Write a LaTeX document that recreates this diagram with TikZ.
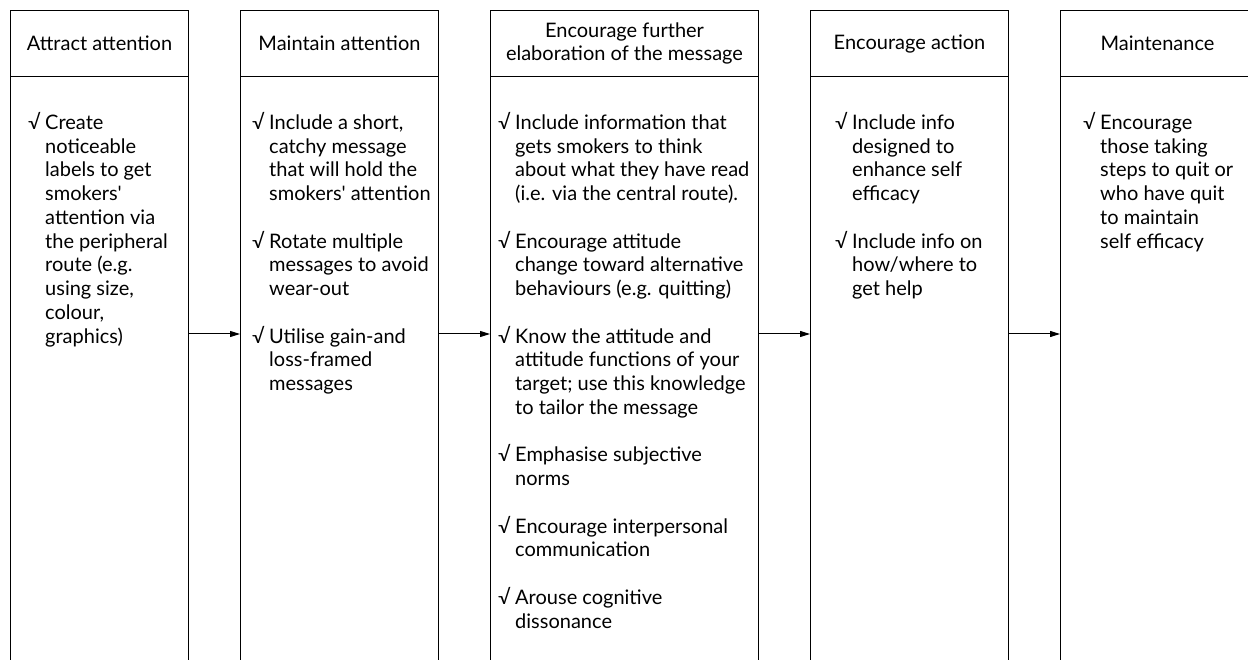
\documentclass[tikz,border=0pt]{standalone}
\usepackage{fontspec}
\setmainfont{Lato}
\usetikzlibrary{arrows.meta,positioning}

\newcommand{\chk}{\makebox[17pt][l]{√}}
\newcommand{\indt}{\hspace*{17pt}}

\begin{document}
\begin{tikzpicture}[x=1pt,y=-1pt,
    stagehead/.style={draw,line width=1pt,minimum height=66pt,inner sep=0pt,
        anchor=north west,align=center,font=\fontsize{20}{23}\selectfont},
    stagebody/.style={draw,line width=1pt,minimum height=640pt,inner sep=0pt,anchor=north west},
    points/.style={anchor=north west,align=left,inner sep=0pt,font=\fontsize{20}{23.75}\selectfont},
    flow/.style={line width=1pt,-{Triangle[length=10pt,width=6pt]}}]

\clip (0,0) rectangle (1248,660);
\fill[white] (0,0) rectangle (1248,660);

% Stage headers and bodies
\foreach \n/\x/\w/\title in {1/10/178/Attract attention,
        2/240/198/Maintain attention,
        3/490/268/{Encourage further\\elaboration of the message},
        4/810/198/Encourage action,
        5/1060/194/Maintenance} {
    \node[stagehead,minimum width=\w] (head\n) at (\x,10) {\title};
    \node[stagebody,minimum width=\w] (body\n) at (\x,76) {};
}

% Check lists
\node[points] (pts1) at (28,112) {
    \chk Create\\ \indt noticeable\\ \indt labels to get\\ \indt smokers\textquotesingle\\
    \indt attention via\\ \indt the peripheral\\ \indt route (e.g.\\ \indt using size,\\
    \indt colour,\\ \indt graphics)
};

\node[points] (pts2) at (252,112) {
    \chk Include a short,\\ \indt catchy message\\ \indt that will hold the\\
    \indt smokers\textquotesingle{} attention\\[23.75pt]
    \chk Rotate multiple\\ \indt messages to avoid\\ \indt wear-out\\[23.75pt]
    \chk Utilise gain-and\\ \indt loss-framed\\ \indt messages
};

\node[points] (pts3) at (498,112) {
    \chk Include information that\\ \indt gets smokers to think\\
    \indt about what they have read\\ \indt (i.e. via the central route).\\[23.75pt]
    \chk Encourage attitude\\ \indt change toward alternative\\
    \indt behaviours (e.g. quitting)\\[23.75pt]
    \chk Know the attitude and\\ \indt attitude functions of your\\
    \indt target; use this knowledge\\ \indt to tailor the message\\[23.75pt]
    \chk Emphasise subjective\\ \indt norms\\[23.75pt]
    \chk Encourage interpersonal\\ \indt communication\\[23.75pt]
    \chk Arouse cognitive\\ \indt dissonance
};

\node[points] (pts4) at (835,112) {
    \chk Include info\\ \indt designed to\\ \indt enhance self\\ \indt efficacy\\[23.75pt]
    \chk Include info on\\ \indt how/where to\\ \indt get help
};

\node[points] (pts5) at (1083,112) {
    \chk Encourage\\ \indt those taking\\ \indt steps to quit or\\ \indt who have quit\\
    \indt to maintain\\ \indt self efficacy
};

% Flow between stages
\coordinate (mid) at (0,334);
\foreach \a/\b in {1/2,2/3,3/4,4/5}
    \draw[flow] (body\a.east |- mid) -- (body\b.west |- mid);

\end{tikzpicture}
\end{document}
